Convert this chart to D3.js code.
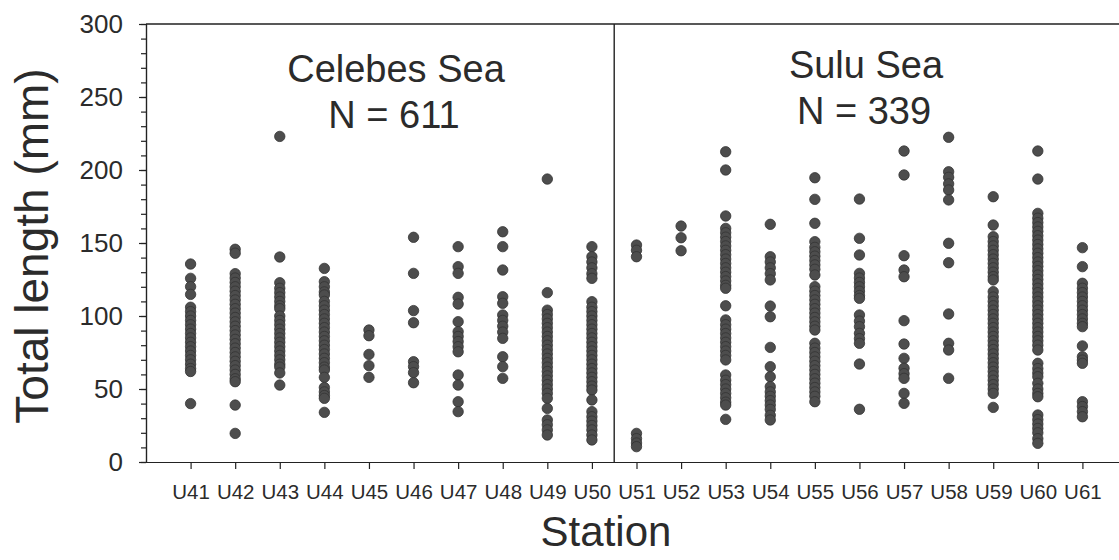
<!DOCTYPE html>
<html>
<head>
<meta charset="utf-8">
<script src="https://cdn.jsdelivr.net/npm/d3@7"></script>
<style>
  body { margin: 0; background: #fff; }
  svg text { font-family: "Liberation Sans", Arial, sans-serif; fill: #2b2b2b; }
</style>
</head>
<body>
<svg id="chart" width="1119" height="560"></svg>
<script>
// station labels along the x axis
var stations = ["U41","U42","U43","U44","U45","U46","U47","U48","U49","U50",
                "U51","U52","U53","U54","U55","U56","U57","U58","U59","U60","U61"];

// total length (mm) of each fish, per station
var celebesLengths = [
  [135.6, 125.8, 120.1, 114.8, 106, 103, 100, 97, 94, 91, 88, 85, 82, 79, 76, 73, 70, 67, 64, 62, 40],
  [145.7, 143, 129, 126, 123, 120, 117, 114, 111, 108, 105, 102, 99, 96, 93, 90, 87, 84, 81, 78, 75, 72, 69, 66, 63, 60, 57, 55, 39, 19.6],
  [223, 140.4, 122.8, 119, 116, 113, 110, 107, 105, 100, 97, 94, 91, 88, 85, 82, 79, 76, 73, 70, 67, 65, 61, 52.7],
  [132.6, 123.5, 120, 116.5, 114.4, 110, 107, 104, 101, 98, 95, 92, 89, 86, 83, 80, 77, 74, 71, 68, 65, 63, 58, 51, 48, 45.5, 43.6, 34],
  [90.4, 86.5, 73.7, 66, 58],
  [153.9, 129.2, 103.7, 95.4, 68.7, 65.3, 61.2, 54.3],
  [147.5, 133.8, 129.2, 112.8, 108.2, 96.1, 89.3, 86, 82.5, 79, 75.5, 59.6, 52.7, 41.3, 34.5],
  [157.7, 147.5, 131.5, 113.2, 108.7, 100.7, 97, 93, 89, 84.7, 72.1, 65.3, 57.3],
  [193.8, 116, 104, 101, 98, 95, 92, 89, 86, 83, 80, 77, 74, 71, 68, 65, 62, 59, 56, 53, 50, 47, 43.6, 36.7, 28.8, 25.5, 22, 18.5],
  [147.5, 140.6, 137, 133, 129, 125.8, 109.8, 106, 103, 100, 97, 94, 91, 88, 85, 82, 79, 76, 73, 70, 67, 64, 61, 58, 55, 52, 49.3, 42.5, 34.5, 31, 28, 25, 22, 18.5, 15.1]
];
var suluLengths = [
  [148.6, 145, 140.6, 19.6, 16, 13, 10.5],
  [161.6, 153.6, 144.7],
  [212.5, 200, 168.5, 160, 157, 154, 151, 148, 145, 142, 139, 136, 133, 130, 127, 124, 121, 119, 107, 97.3, 94, 91, 88, 85, 82, 79, 76, 73, 69.9, 59.6, 56, 53, 50, 47, 44, 41, 39, 29.2],
  [162.8, 140.6, 137, 133, 129, 124.7, 106.8, 99.5, 78.5, 65.3, 58.4, 51.6, 48, 45, 42, 39, 36, 32, 28.8],
  [194.7, 179.9, 163.5, 150.9, 147, 144, 141, 138, 135, 132, 128.1, 120.1, 117, 114, 111, 108, 105, 102, 99, 96, 93, 90.4, 81.3, 78, 75, 72, 69, 66, 63, 60, 57, 54, 51, 48, 45, 41.3],
  [180.1, 153.2, 141.8, 129.2, 126, 123, 120, 117, 114, 112.1, 100.7, 96.5, 92.7, 88.1, 84.5, 81.3, 67.1, 36.1],
  [213, 196.6, 141.3, 131.5, 126.9, 96.8, 80.8, 71, 64.2, 60.5, 57.3, 47, 40.2],
  [222.4, 198.8, 195, 190.5, 186.3, 179.5, 149.8, 136.5, 101.4, 81.3, 76.7, 57.3],
  [181.7, 162.3, 154.3, 151, 148, 145, 142, 139, 136, 133, 130, 127, 124.7, 116.7, 113, 110, 107, 104, 101, 98, 95, 92, 89, 86, 83, 80, 77, 74, 71, 68, 65, 62, 59, 56, 53, 50, 47, 37.4],
  [213, 193.8, 170.3, 167, 164, 161, 158, 155, 152, 149, 146, 143, 140, 137, 134, 131, 128, 125, 122, 119, 116, 113, 110, 107, 104, 101, 98, 95, 92, 89, 86, 83, 80, 76.7, 67.6, 64, 61, 58.4, 53.9, 50, 47, 44.7, 32.2, 29, 26, 23, 20, 16, 12.8],
  [146.8, 133.8, 122.4, 119, 116, 113, 110, 107, 104, 101, 98, 95, 92.7, 79.5, 72.1, 69.8, 67.6, 41.3, 38, 34.5, 31]
];

var majorTicks = [0, 50, 100, 150, 200, 250, 300];
var minorTicks = d3.range(0, 301, 10);

var seas = [
  {name: "Celebes Sea", n: "N = 611"},
  {name: "Sulu Sea", n: "N = 339"}
];

var svg = d3.select("#chart");
var plotLeft = 146, plotTop = 24, plotBottom = 462, plotRight = 1127;

var x = d3.scaleLinear().domain([-1, stations.length]).range([plotLeft, plotRight]);
var y = d3.scaleLinear().domain([0, 300]).range([plotBottom, plotTop]);

// flatten to points
var points = [];
celebesLengths.concat(suluLengths).forEach(function(vals, i) {
  vals.forEach(function(v) { points.push({i: i, v: v}); });
});

// frame: top line, right line, divider between seas
svg.append("path")
  .attr("d", "M" + plotLeft + "," + plotTop + "H" + plotRight + "V" + plotBottom)
  .attr("fill", "none").attr("stroke", "#222").attr("stroke-width", 1.4);
svg.append("line")
  .attr("x1", x(9.5)).attr("x2", x(9.5)).attr("y1", plotTop).attr("y2", plotBottom)
  .attr("stroke", "#222").attr("stroke-width", 1.4);

// dots
svg.append("g").selectAll("circle")
  .data(points)
  .enter().append("circle")
    .attr("cx", function(d) { return x(d.i); })
    .attr("cy", function(d) { return y(d.v); })
    .attr("r", 5.2)
    .attr("fill", "#4d4d4d")
    .attr("stroke", "#333")
    .attr("stroke-width", 0.8);

// y axis, minor then major
svg.append("g")
  .attr("transform", "translate(" + plotLeft + ",0)")
  .call(d3.axisLeft(y).tickValues(minorTicks).tickSize(5).tickFormat(""))
  .call(function(g) { g.selectAll("path, line").attr("stroke", "#222").attr("stroke-width", 1.2); });
svg.append("g")
  .attr("transform", "translate(" + plotLeft + ",0)")
  .call(d3.axisLeft(y).tickValues(majorTicks).tickSize(7).tickPadding(16).tickSizeOuter(0))
  .call(function(g) {
    g.selectAll("path, line").attr("stroke", "#222").attr("stroke-width", 1.2);
    g.selectAll("text").attr("font-size", 26).attr("fill", "#2b2b2b")
      .style("font-family", "'Liberation Sans', Arial, sans-serif");
  });

// x axis
svg.append("g")
  .attr("transform", "translate(0," + plotBottom + ")")
  .call(d3.axisBottom(x).tickValues(d3.range(stations.length)).tickSize(7).tickPadding(15).tickSizeOuter(0)
    .tickFormat(function(i) { return stations[i]; }))
  .call(function(g) {
    g.selectAll("path, line").attr("stroke", "#222").attr("stroke-width", 1.2);
    g.selectAll("text").attr("font-size", 20.5).attr("fill", "#2b2b2b")
      .style("font-family", "'Liberation Sans', Arial, sans-serif");
  });

// sea titles
seas.forEach(function(s, k) {
  var cx = k === 0 ? 396 : 866;
  svg.append("text").attr("x", cx).attr("y", k === 0 ? 82 : 78)
    .attr("text-anchor", "middle").attr("font-size", 38).text(s.name);
  svg.append("text").attr("x", cx - 2).attr("y", k === 0 ? 128 : 124)
    .attr("text-anchor", "middle").attr("font-size", 38).text(s.n);
});

// axis titles
svg.append("text")
  .attr("transform", "translate(48,246) rotate(-90)")
  .attr("text-anchor", "middle").attr("font-size", 46)
  .text("Total length (mm)");
svg.append("text")
  .attr("x", 606).attr("y", 546)
  .attr("text-anchor", "middle").attr("font-size", 42)
  .text("Station");
</script>
</body>
</html>
